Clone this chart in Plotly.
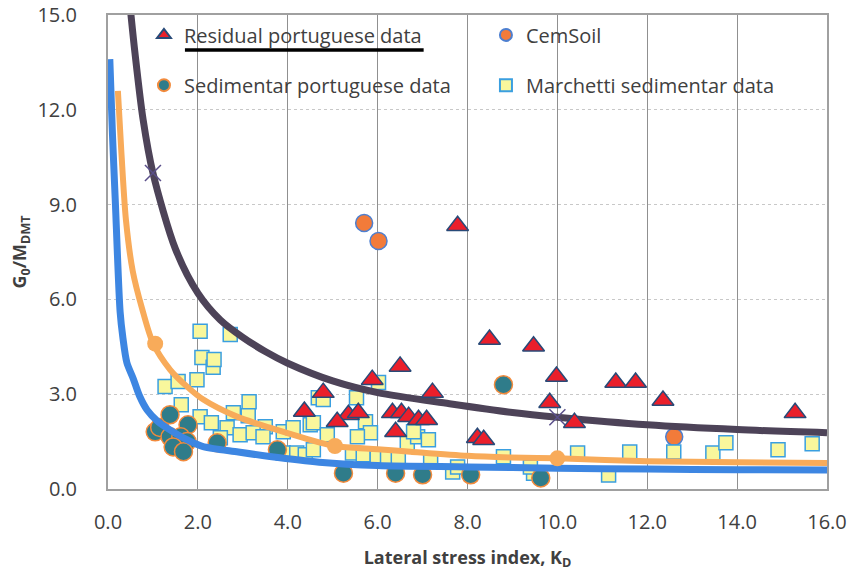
import plotly.graph_objects as go

# ---------------- data ----------------
residual_kd = [7.78, 8.49, 9.47, 6.5, 9.98, 9.83, 10.38, 11.3, 11.74, 12.35, 15.29,
               5.88, 4.79, 7.22, 5.35, 5.57, 5.10, 6.33, 6.53, 6.69, 6.91, 7.09,
               6.4, 8.22, 8.36, 4.37]
residual_g = [8.33, 4.73, 4.52, 3.88, 3.56, 2.73, 2.10, 3.37, 3.37, 2.80, 2.41,
              3.46, 3.05, 3.05, 2.35, 2.41, 2.13, 2.41, 2.41, 2.29, 2.19, 2.19,
              1.81, 1.62, 1.56, 2.45]

cemsoil_kd = [5.70, 6.02, 12.6]
cemsoil_g = [8.42, 7.85, 1.65]

sediment_kd = [8.8, 1.05, 1.15, 1.38, 1.78, 1.38, 1.62, 1.76, 1.45, 1.68,
               2.43, 3.77, 5.24, 6.4, 7.0, 8.07, 9.63]
sediment_g = [3.30, 1.81, 1.95, 2.35, 2.03, 1.65, 1.65, 1.50, 1.33, 1.18,
              1.46, 1.24, 0.50, 0.50, 0.45, 0.45, 0.35]

marchetti_kd = [2.05, 2.72, 2.09, 2.34, 2.36, 1.98, 1.27, 1.56, 1.63, 2.05, 2.30,
                3.14, 2.79, 3.12, 2.65, 2.50, 2.94, 3.50, 3.23, 3.45, 3.90, 4.12,
                3.90, 4.20, 4.39, 4.50, 4.68, 4.79, 5.53, 6.02, 4.57, 4.88, 5.73,
                5.84, 4.57, 5.44, 5.68, 5.99, 6.22, 6.46, 6.66, 6.89, 7.13, 6.80,
                7.18, 7.67, 5.55, 10.45, 11.61, 12.59, 9.47, 11.14, 13.46, 13.75,
                14.91, 15.67, 7.78, 8.8, 9.4]
marchetti_g = [4.99, 4.89, 4.16, 3.85, 4.10, 3.46, 3.24, 3.40, 2.67, 2.29, 2.10,
               2.76, 2.41, 2.32, 1.94, 1.62, 1.72, 1.97, 1.78, 1.65, 1.81, 1.94,
               1.14, 1.14, 1.08, 2.03, 2.89, 2.83, 2.89, 3.37, 2.10, 1.72, 2.13,
               1.78, 1.24, 1.14, 1.08, 0.98, 1.02, 1.02, 1.46, 1.65, 1.56, 1.81,
               0.92, 0.54, 1.65, 1.14, 1.17, 1.17, 0.50, 0.44, 1.14, 1.46,
               1.24, 1.43, 0.70, 1.02, 0.70]

# fitted curves
dark_kd = [0.49, 0.6, 0.78, 1.0, 1.5, 2.0, 2.5, 3.0, 3.5, 4.0, 5.0, 6.0, 7.6, 9.0, 10.0, 12.0, 14.0, 16.0]
dark_g = [15.3, 13.8, 11.7, 10.0, 7.6, 6.2, 5.35, 4.8, 4.35, 3.98, 3.42, 3.05, 2.7, 2.42, 2.27, 2.03, 1.88, 1.78]
dark_mark_kd = [1.0, 10.0]
dark_mark_g = [10.0, 2.27]

orange_kd = [0.22, 0.3, 0.4, 0.55, 0.76, 1.0, 1.38, 1.76, 2.12, 2.87, 3.6, 4.35, 5.05,
             6.0, 6.73, 8.0, 8.96, 10.0, 12.0, 14.0, 16.0]
orange_g = [12.6, 10.6, 8.5, 6.9, 5.7, 4.62, 3.78, 3.24, 2.83, 2.29, 1.94, 1.62, 1.36,
            1.26, 1.18, 1.05, 1.0, 0.97, 0.88, 0.85, 0.82]
orange_mark_kd = [1.05, 5.05, 10.0]
orange_mark_g = [4.6, 1.36, 0.97]

blue_kd = [0.04, 0.1, 0.16, 0.27, 0.33, 0.42, 0.56, 0.7, 0.87, 1.1, 1.38, 1.7, 2.1,
           2.9, 3.6, 4.7, 6.0, 8.0, 10.0, 12.0, 14.0, 16.0]
blue_g = [13.6, 11.2, 9.2, 5.6, 4.8, 4.0, 3.5, 2.95, 2.5, 2.15, 1.87, 1.6, 1.35,
          1.17, 1.03, 0.85, 0.74, 0.70, 0.66, 0.63, 0.61, 0.60]

x_ticks = [0, 2, 4, 6, 8, 10, 12, 14, 16]
y_ticks = [0, 3, 6, 9, 12, 15]

FONT = "Open Sans"
TXT = "#404040"

fig = go.Figure()

fig.add_trace(go.Scatter(
    x=cemsoil_kd, y=cemsoil_g, mode="markers", name="CemSoil",
    legend="legend", legendrank=2,
    marker=dict(symbol="circle", size=17, color="#f27b3a",
                line=dict(color="#4d7fd0", width=1.5))))

fig.add_trace(go.Scatter(
    x=marchetti_kd, y=marchetti_g, mode="markers", name="Marchetti sedimentar data",
    legend="legend2", legendrank=2,
    marker=dict(symbol="square", size=14, color="#f9f79c",
                line=dict(color="#3a9fe0", width=1.5))))

fig.add_trace(go.Scatter(
    x=sediment_kd, y=sediment_g, mode="markers", name="Sedimentar portuguese data",
    legend="legend2", legendrank=1,
    marker=dict(symbol="circle", size=18, color="#2f7c8a",
                line=dict(color="#f28a3c", width=1.5))))

fig.add_trace(go.Scatter(
    x=blue_kd, y=blue_g, mode="lines", showlegend=False,
    line=dict(color="#3d86e2", width=7, shape="spline", smoothing=0.8)))

fig.add_trace(go.Scatter(
    x=orange_kd, y=orange_g, mode="lines", showlegend=False,
    line=dict(color="#f8ab5a", width=6, shape="spline", smoothing=0.8)))
fig.add_trace(go.Scatter(
    x=orange_mark_kd, y=orange_mark_g, mode="markers", showlegend=False,
    marker=dict(symbol="circle", size=16, color="#f8ab5a")))

fig.add_trace(go.Scatter(
    x=dark_kd, y=dark_g, mode="lines", showlegend=False,
    line=dict(color="#4d4358", width=7, shape="spline", smoothing=0.8)))
fig.add_trace(go.Scatter(
    x=dark_mark_kd, y=dark_mark_g, mode="markers", showlegend=False,
    marker=dict(symbol="x-thin", size=16, line=dict(color="#5a4f8a", width=1.5))))

fig.add_trace(go.Scatter(
    x=residual_kd, y=residual_g, mode="markers", name="Residual portuguese data",
    legend="legend", legendrank=1,
    marker=dict(symbol="triangle-up", size=19, color="#ea1f2b",
                line=dict(color="#284a78", width=1.5))))

legend_common = dict(orientation="h", xanchor="left", yanchor="middle",
                     bgcolor="rgba(0,0,0,0)", borderwidth=0,
                     font=dict(family=FONT, size=20, color=TXT),
                     entrywidth=297, entrywidthmode="pixels",
                     itemsizing="constant", traceorder="normal")

fig.update_layout(
    width=856, height=579,
    margin=dict(l=108, r=29, t=15, b=90, autoexpand=False),
    paper_bgcolor="white", plot_bgcolor="white",
    font=dict(family=FONT, color=TXT),
    legend=dict(x=0.050, y=0.958, **legend_common),
    legend2=dict(x=0.050, y=0.852, **legend_common),
    xaxis=dict(range=[0, 16], tickvals=x_ticks, tickformat=".1f", automargin=False,
               showgrid=True, gridcolor="#909090", gridwidth=1,
               showline=True, linecolor="#a0a0a0", linewidth=2, mirror=True,
               zeroline=False, ticks="", ticklabelstandoff=14,
               tickfont=dict(family=FONT, size=20, color=TXT),
               title=dict(text="<b>Lateral stress index, K<sub>D</sub></b>",
                          font=dict(family=FONT, size=18, color=TXT), standoff=17)),
    yaxis=dict(range=[0, 15], tickvals=y_ticks, tickformat=".1f", automargin=False,
               showgrid=True, gridcolor="#c8c8c8", gridwidth=1, griddash="dot",
               showline=True, linecolor="#a0a0a0", linewidth=2, mirror=True,
               zeroline=False, ticks="", ticklabelstandoff=25,
               tickfont=dict(family=FONT, size=20, color=TXT),
               title=dict(text="<b>G<sub>0</sub>/M<sub>DMT</sub></b>",
                          font=dict(family=FONT, size=18, color=TXT), standoff=6)),
    shapes=[dict(type="line", xref="paper", yref="paper",
                 x0=0.107, x1=0.439, y0=0.926, y1=0.926,
                 line=dict(color="black", width=3.5))],
)

fig.write_html("out.html", config={"displayModeBar": False},
               post_script="document.body.style.margin='0';")
